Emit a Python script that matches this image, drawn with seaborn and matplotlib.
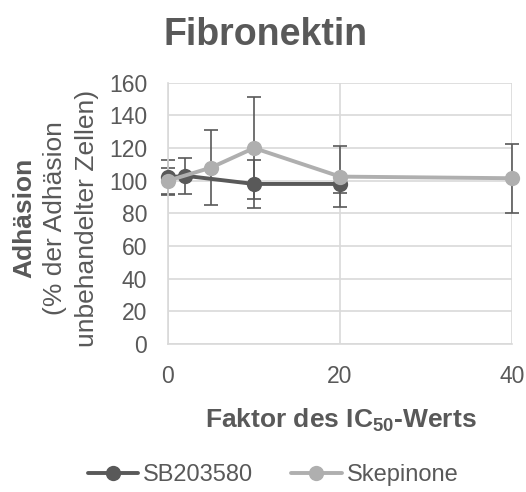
import matplotlib
matplotlib.use("Agg")
import matplotlib.pyplot as plt
import seaborn as sns
import pandas as pd
from matplotlib.lines import Line2D

sns.set_style("white")
plt.rcParams["font.family"] = ["Liberation Sans", "DejaVu Sans"]
plt.rcParams["mathtext.fontset"] = "custom"
plt.rcParams["mathtext.rm"] = "Liberation Sans"
plt.rcParams["mathtext.bf"] = "Liberation Sans:bold"

# Adhesion on fibronectin relative to untreated cells
sb_x = [0, 2, 10, 20]
sb_y = [102, 103, 98, 98]
sb_err = [10.5, 11, 14.5, 5.5]

sk_x = [0, 5, 10, 20, 40]
sk_y = [100, 108, 120, 102.5, 101.5]
sk_err = [8, 23, 31, 18.7, 21]

series_names = ["SB203580", "Skepinone"]
x_ticks = [0, 20, 40]
y_ticks = [0, 20, 40, 60, 80, 100, 120, 140, 160]

DARK = "#595959"
LIGHT = "#AFAFAF"
GRID = "#D9D9D9"
TEXT = "#595959"

df = pd.concat([
    pd.DataFrame({"x": sb_x, "y": sb_y, "err": sb_err, "series": series_names[0]}),
    pd.DataFrame({"x": sk_x, "y": sk_y, "err": sk_err, "series": series_names[1]}),
], ignore_index=True)

W, H = 526, 492
fig = plt.figure(figsize=(W / 100, H / 100), dpi=100)
ax = fig.add_axes([168 / W, 1 - 344 / H, (512 - 168) / W, (344 - 82.7) / H])

palette = {series_names[0]: DARK, series_names[1]: LIGHT}
for name in series_names:
    sub = df[df["series"] == name]
    ax.errorbar(sub["x"], sub["y"], yerr=sub["err"], fmt="none", ecolor=DARK,
                elinewidth=1.2, capsize=5, capthick=1.2, zorder=2, clip_on=False)
for name in series_names:
    sub = df[df["series"] == name]
    sns.lineplot(data=sub, x="x", y="y", ax=ax, color=palette[name], marker="o",
                 markersize=11, markeredgewidth=0, linewidth=2.8, zorder=3,
                 legend=False, sort=False, clip_on=False)

ax.set_xlim(0, 40)
ax.set_ylim(0, 160)
ax.set_xticks(x_ticks)
ax.set_yticks(y_ticks)
ax.set_xticklabels([str(t) for t in x_ticks])
ax.set_yticklabels([str(t) for t in y_ticks])
ax.tick_params(axis="both", labelsize=16.5, colors=TEXT, length=0)
ax.tick_params(axis="x", pad=15)
ax.tick_params(axis="y", pad=15)
ax.grid(True, color=GRID, linewidth=1.2)
ax.set_axisbelow(True)
for s in ["top", "right"]:
    ax.spines[s].set_visible(False)
for s in ["left", "bottom"]:
    ax.spines[s].set_color(GRID)
    ax.spines[s].set_linewidth(1.2)
ax.set_xlabel("")
ax.set_ylabel("")

fig.text(266 / W, 1 - 45 / H, "Fibronektin", ha="center", va="baseline",
         fontsize=27, fontweight="bold", color=TEXT)
fig.text(341 / W, 1 - 427 / H, "Faktor des IC$_{\\mathbf{50}}$-Werts",
         ha="center", va="baseline", fontsize=19, fontweight="bold", color=TEXT)

ymid = 1 - 218 / H
fig.text(24 / W, ymid, "Adhäsion", rotation=90, ha="center", va="center",
         fontsize=19, fontweight="bold", color=TEXT)
fig.text(55 / W, ymid, "(% der Adhäsion", rotation=90, ha="center", va="center",
         fontsize=19, color=TEXT)
fig.text(87 / W, ymid, "unbehandelter Zellen)", rotation=90, ha="center", va="center",
         fontsize=19, color=TEXT)

handles = [Line2D([0], [0], color=palette[n], marker="o", markersize=11,
                  markeredgewidth=0, linewidth=2.8) for n in series_names]
fig.legend(handles, series_names, loc="center", bbox_to_anchor=(273 / W, 1 - 475 / H),
           ncol=2, frameon=False, fontsize=17, labelcolor=TEXT,
           handlelength=2.15, handletextpad=0.2, columnspacing=1.6)

fig.savefig("out.png", dpi=100)
